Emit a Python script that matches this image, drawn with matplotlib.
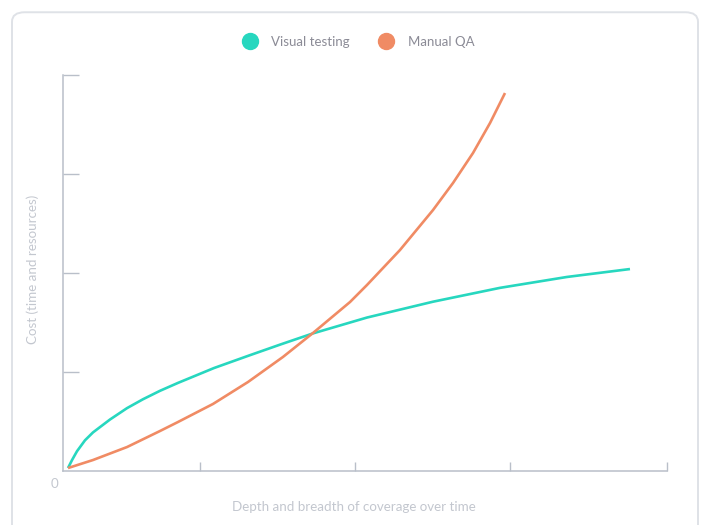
import matplotlib.pyplot as plt
from matplotlib.lines import Line2D
from matplotlib.patches import FancyBboxPatch

plt.rcParams['font.family'] = ['Lato', 'DejaVu Sans']

# coverage (0-100 along the x axis) vs cost, read per series
visual_x = [0.83, 1.49, 2.32, 3.64, 4.97, 7.78, 10.6, 13.25, 16.06, 19.04, 25.0, 30.96,
            36.1, 41.39, 50.33, 61.26, 72.35, 83.44, 93.87]
visual_y = [0.03, 0.11, 0.20, 0.31, 0.39, 0.52, 0.635, 0.725, 0.81, 0.89, 1.04, 1.17,
            1.28, 1.39, 1.55, 1.71, 1.85, 1.96, 2.04]
manual_x = [0.83, 4.97, 10.6, 16.06, 19.04, 24.83, 30.63, 36.42, 41.39, 47.52, 50.33,
            55.79, 61.26, 64.57, 67.88, 70.70, 73.18]
manual_y = [0.03, 0.111, 0.242, 0.404, 0.495, 0.677, 0.899, 1.152, 1.394, 1.707, 1.879,
            2.232, 2.636, 2.909, 3.212, 3.515, 3.818]

series_names = ["Visual testing", "Manual QA"]
teal = "#27d7bf"
orange = "#f08b64"
axis_grey = "#b9bfc9"
label_grey = "#c3c7cf"

fig = plt.figure(figsize=(7.07, 5.25), dpi=100)

# rounded card outline, kept behind the axes
card = FancyBboxPatch((12 / 707, -0.05), 686 / 707, 1.04 - 7 / 525,
                      boxstyle="round,pad=0,rounding_size=0.018",
                      transform=fig.transFigure, facecolor="white",
                      edgecolor="#dfe2e7", linewidth=1.4, zorder=-1)
fig.patches.append(card)

ax = fig.add_axes([63 / 707, 54 / 525, 604 / 707, 396 / 525])
ax.set_facecolor("none")
ax.set_zorder(2)

ax.plot(visual_x, visual_y, color=teal, lw=1.9, solid_capstyle="butt", solid_joinstyle="round")
ax.plot(manual_x, manual_y, color=orange, lw=1.9, solid_capstyle="butt", solid_joinstyle="round")

ax.set_xlim(0, 100)
ax.set_ylim(0, 4)
ax.set_xticks([22.7, 48.3, 74.0, 100])
ax.set_yticks([1, 2, 3, 4])
ax.set_xticklabels([])
ax.set_yticklabels([])
ax.tick_params(axis="x", direction="in", length=6.5, width=1, color=axis_grey)
ax.tick_params(axis="y", direction="in", length=11.5, width=1, color=axis_grey)
for side in ["top", "right"]:
    ax.spines[side].set_visible(False)
for side in ["left", "bottom"]:
    ax.spines[side].set_color(axis_grey)
    ax.spines[side].set_linewidth(1.1)

ax.annotate("0", xy=(0, 0), xytext=(-6, -9), textcoords="offset points",
            ha="center", va="center", fontsize=9.6, color=label_grey)

fig.text(354 / 707, 1 - 507 / 525, "Depth and breadth of coverage over time",
         ha="center", va="center", fontsize=9.6, color=label_grey)
fig.text(33 / 707, 1 - 269 / 525, "Cost (time and resources)", rotation=90,
         ha="center", va="center", fontsize=9.6, color=label_grey)

handles = [Line2D([], [], ls="none", marker="o", markersize=11.5, color=teal),
           Line2D([], [], ls="none", marker="o", markersize=11.5, color=orange)]
fig.legend(handles, series_names, loc="center", bbox_to_anchor=(358 / 707, 1 - 42 / 525),
           ncol=2, frameon=False, fontsize=9.5, labelcolor="#8b8b96",
           handletextpad=1.0, columnspacing=2.2, handlelength=1.2)

plt.savefig("out.png", dpi=100)
